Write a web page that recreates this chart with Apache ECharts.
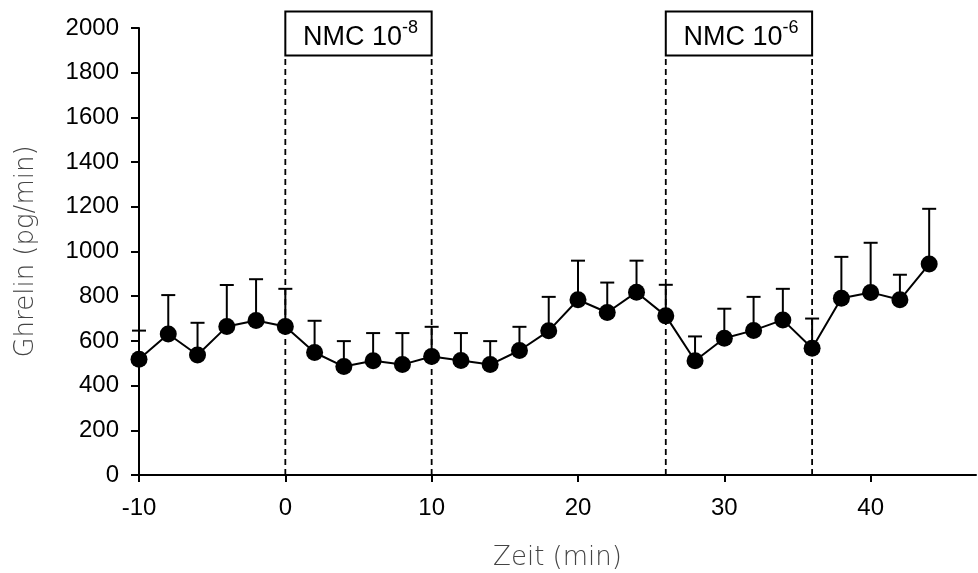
<!DOCTYPE html>
<html>
<head>
<meta charset="utf-8">
<script src="https://cdn.jsdelivr.net/npm/echarts@6/dist/echarts.min.js"></script>
<style>
html,body{margin:0;padding:0;background:#fff;}
#chart{width:978px;height:573px;}
</style>
</head>
<body>
<div id="chart"></div>
<script>
// ---- data ----
const times = [-10,-8,-6,-4,-2,0,2,4,6,8,10,12,14,16,18,20,22,24,26,28,30,32,34,36,38,40,42,44];
const ghrelin = [518,631,537,664,691,664,548,485,511,494,530,512,494,557,645,784,727,818,712,511,612,647,694,567,791,817,784,944];
const errTop = [646,805,681,850,876,833,690,599,635,635,663,635,599,663,797,959,861,959,851,620,744,797,833,700,976,1039,896,1191];
const phaseStart = [0, 26];
const phaseEnd = [10, 36];
const phaseLabel = ['NMC 10', 'NMC 10'];
const phaseExp = ['-8', '-6'];
const xTicks = [-10, 0, 10, 20, 30, 40];

// ---- layout constants ----
const BOX_TOP = 2074;
const BOX_BOTTOM = 1877;

const chart = echarts.init(document.getElementById('chart'), null, {renderer: 'canvas'});

const lineData = times.map((t, i) => [t, ghrelin[i]]);
const errData = times.map((t, i) => [t, ghrelin[i], errTop[i]]);
const dashData = phaseStart.concat(phaseEnd).map(v => [v, 0]);
const boxData = phaseStart.map((s, i) => [s, phaseEnd[i]]);

const option = {
  animation: false,
  backgroundColor: '#fff',
  grid: {left: 139, right: 2, top: 28, bottom: 98, containLabel: false, outerBoundsMode: 'none'},
  xAxis: {
    type: 'value', min: -10, max: 47.2,
    name: 'Zeit (min)', nameLocation: 'middle', nameGap: 70,
    nameTextStyle: {fontFamily: 'DejaVu Sans', fontWeight: 200, fontSize: 26, color: '#444'},
    axisLine: {onZero: false, lineStyle: {color: '#000', width: 2}},
    axisTick: {show: true, inside: false, length: 7, customValues: xTicks, lineStyle: {color: '#000', width: 2}},
    axisLabel: {customValues: xTicks, margin: 21, fontFamily: 'Liberation Sans, Arial', fontSize: 24, color: '#000',
      formatter: v => String(v)},
    splitLine: {show: false}
  },
  yAxis: {
    type: 'value', min: 0, max: 2000, interval: 200,
    name: 'Ghrelin (pg/min)', nameLocation: 'middle', nameGap: 100, nameRotate: 90,
    nameTextStyle: {fontFamily: 'DejaVu Sans', fontWeight: 200, fontSize: 26, color: '#444'},
    axisLine: {show: true, onZero: false, lineStyle: {color: '#000', width: 2}},
    axisTick: {show: true, inside: false, length: 8, lineStyle: {color: '#000', width: 2}},
    axisLabel: {margin: 20, fontFamily: 'Liberation Sans, Arial', fontSize: 24, color: '#000',
      formatter: v => String(v)},
    splitLine: {show: false}
  },
  series: [
    {
      type: 'custom', name: 'dash', data: dashData, clip: false, z: 1,
      renderItem: function (params, api) {
        const x = api.value(0);
        const p0 = api.coord([x, 0]);
        const p1 = api.coord([x, BOX_BOTTOM]);
        return {type: 'line', shape: {x1: p0[0], y1: p0[1], x2: p1[0], y2: p1[1]},
          style: {stroke: '#000', lineWidth: 1.8, lineDash: [6, 4]}};
      }
    },
    {
      type: 'custom', name: 'boxes', data: boxData, clip: false, z: 2,
      renderItem: function (params, api) {
        const i = params.dataIndex;
        const c0 = api.coord([api.value(0), BOX_TOP]);
        const c1 = api.coord([api.value(1), BOX_BOTTOM]);
        return {
          type: 'group',
          children: [
            {type: 'rect', shape: {x: c0[0], y: c0[1], width: c1[0] - c0[0], height: c1[1] - c0[1]},
              style: {fill: '#fff', stroke: '#000', lineWidth: 2}},
            {type: 'text', x: (c0[0] + c1[0]) / 2 + 2, y: (c0[1] + c1[1]) / 2 + 4,
              style: {
                text: '{m|' + phaseLabel[i] + '}{s|' + phaseExp[i] + '}',
                align: 'center', verticalAlign: 'middle',
                rich: {
                  m: {fontFamily: 'Liberation Sans, Arial', fontSize: 27, fill: '#000', color: '#000'},
                  s: {fontFamily: 'Liberation Sans, Arial', fontSize: 18, fill: '#000', color: '#000', padding: [0, 0, 18, 0]}
                }
              }}
          ]
        };
      }
    },
    {
      type: 'custom', name: 'err', data: errData, clip: false, z: 3,
      encode: {x: 0, y: [1, 2]},
      renderItem: function (params, api) {
        const x = api.value(0);
        const p0 = api.coord([x, api.value(1)]);
        const p1 = api.coord([x, api.value(2)]);
        const st = {stroke: '#000', lineWidth: 2};
        return {
          type: 'group',
          children: [
            {type: 'line', shape: {x1: p0[0], y1: p0[1], x2: p1[0], y2: p1[1]}, style: st},
            {type: 'line', shape: {x1: p1[0] - 7, y1: p1[1], x2: p1[0] + 7, y2: p1[1]}, style: st}
          ]
        };
      }
    },
    {
      type: 'line', name: 'Ghrelin', data: lineData, clip: false, z: 4,
      symbol: 'circle', symbolSize: 17,
      itemStyle: {color: '#000'},
      lineStyle: {color: '#000', width: 2}
    }
  ]
};
chart.setOption(option);
</script>
</body>
</html>
